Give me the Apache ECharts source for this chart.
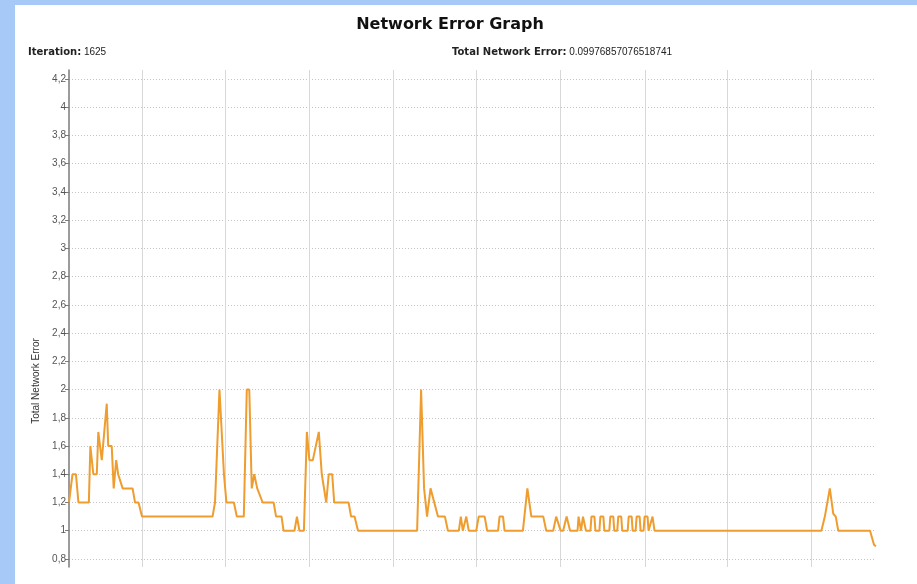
<!DOCTYPE html>
<html><head><meta charset="utf-8">
<script src="https://cdn.jsdelivr.net/npm/echarts@6/dist/echarts.min.js"></script>
<style>html,body{margin:0;padding:0;background:#fff}#c{width:917px;height:584px}</style>
</head><body><div id="c"></div>
<script>
const chartTitle = 'Network Error Graph';
const iterationLabel = 'Iteration:';
const iterationValue = '1625';
const totalErrorLabel = 'Total Network Error:';
const totalErrorValue = '0.09976857076518741';
const yAxisName = 'Total Network Error';

const iterations = [0,7,14,19,40,43,49,56,59,66,69,76,79,86,90,95,99,103,108,128,133,140,147,289,294,303,306,312,317,332,338,352,358,363,368,373,379,383,390,412,417,428,432,454,459,464,473,479,484,491,503,509,513,518,523,530,534,563,568,575,582,701,709,715,717,721,728,743,757,763,785,789,793,800,805,820,825,837,842,864,867,874,877,914,923,931,955,961,975,981,985,990,995,1002,1009,1024,1026,1029,1031,1033,1035,1039,1041,1050,1052,1058,1060,1068,1070,1076,1078,1088,1090,1096,1098,1104,1106,1112,1114,1125,1127,1133,1135,1141,1143,1149,1151,1157,1159,1165,1167,1171,1175,1179,1515,1522,1532,1539,1544,1549,1613,1621,1625];
const errors = [1.2,1.4,1.4,1.2,1.2,1.6,1.4,1.4,1.7,1.5,1.5,1.9,1.6,1.6,1.3,1.5,1.4,1.4,1.3,1.3,1.2,1.2,1.1,1.1,1.2,2.0,2.0,1.4,1.2,1.2,1.1,1.1,2.0,2.0,1.3,1.4,1.3,1.3,1.2,1.2,1.1,1.1,1.0,1.0,1.1,1.0,1.0,1.7,1.5,1.5,1.7,1.4,1.4,1.2,1.4,1.4,1.2,1.2,1.1,1.1,1.0,1.0,2.0,1.3,1.3,1.1,1.3,1.1,1.1,1.0,1.0,1.1,1.0,1.1,1.0,1.0,1.1,1.1,1.0,1.0,1.1,1.1,1.0,1.0,1.3,1.1,1.1,1.0,1.0,1.1,1.1,1.0,1.0,1.1,1.0,1.0,1.1,1.1,1.0,1.0,1.1,1.1,1.0,1.0,1.1,1.1,1.0,1.0,1.1,1.1,1.0,1.0,1.1,1.1,1.0,1.0,1.1,1.1,1.0,1.0,1.1,1.1,1.0,1.0,1.1,1.1,1.0,1.0,1.1,1.1,1.0,1.0,1.1,1.0,1.0,1.1,1.3,1.12,1.1,1.0,1.0,0.9,0.89];
const yTicks = [0.8,1.0,1.2,1.4,1.6,1.8,2.0,2.2,2.4,2.6,2.8,3.0,3.2,3.4,3.6,3.8,4.0,4.2];
const xGridLines = [147,315,483,652,820,990,1160,1325,1495];

const seriesData = iterations.map((x, i) => [x, errors[i]]);

const chart = echarts.init(document.getElementById('c'), null, {renderer: 'canvas'});
chart.setOption({
  backgroundColor: '#a7c9f8',
  animation: false,
  graphic: [
    {type: 'rect', z: -10, shape: {x: 15, y: 5, width: 902, height: 579}, style: {fill: '#ffffff'}},
    {type: 'text', style: {text: chartTitle, x: 450, y: 25, textAlign: 'center', textVerticalAlign: 'middle',
      font: 'bold 16px "DejaVu Sans"', fill: '#111'}},
    {type: 'text', style: {text: '{b|' + iterationLabel + '} ' + iterationValue, x: 28, y: 52, textVerticalAlign: 'middle',
      font: '10px "Liberation Sans"', fill: '#222', rich: {b: {fontWeight: 'bold', fontSize: 10, fontFamily: 'DejaVu Sans'}}}},
    {type: 'text', style: {text: '{b|' + totalErrorLabel + '} ' + totalErrorValue, x: 452, y: 52, textVerticalAlign: 'middle',
      font: '10px "Liberation Sans"', fill: '#222', rich: {b: {fontWeight: 'bold', fontSize: 10, fontFamily: 'DejaVu Sans'}}}},
    {type: 'text', x: 36, y: 381, rotation: Math.PI / 2, style: {text: yAxisName, x: 0, y: 0, textAlign: 'center', textVerticalAlign: 'middle',
      font: '10px "Liberation Sans"', fill: '#333'}}
  ],
  grid: {left: 69, right: 41, top: 70, bottom: 17, containLabel: false},
  xAxis: {
    type: 'value', min: 0, max: 1625,
    axisLine: {show: false},
    axisLabel: {show: false},
    axisTick: {show: false, customValues: xGridLines},
    splitLine: {show: true, lineStyle: {color: '#d8d8d8', width: 1}}
  },
  yAxis: {
    type: 'value', min: 0.743, max: 4.264,
    axisLine: {show: true, lineStyle: {color: '#7a7a7a', width: 1.5}},
    axisTick: {show: true, length: 4, customValues: yTicks, lineStyle: {color: '#7a7a7a'}},
    axisLabel: {customValues: yTicks, color: '#555', fontSize: 10, margin: 3, fontFamily: 'Liberation Sans',
      formatter: v => String(Math.round(v * 10) / 10).replace('.', ',')},
    splitLine: {show: true, lineStyle: {color: '#c4c4c4', type: [1, 2], width: 1}}
  },
  series: [{
    type: 'line', data: seriesData, showSymbol: false, symbol: 'none',
    lineStyle: {color: '#ee9d2e', width: 2}, z: 5
  }]
});
</script></body></html>
